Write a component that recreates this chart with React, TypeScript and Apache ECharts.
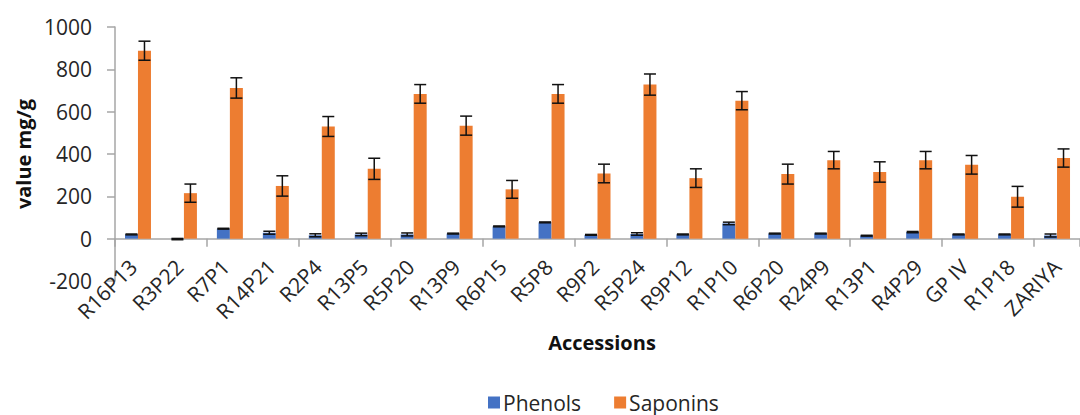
import React, { useEffect, useRef } from "react";
import * as echarts from "echarts";

const categories = ["R16P13", "R3P22", "R7P1", "R14P21", "R2P4", "R13P5", "R5P20", "R13P9", "R6P15", "R5P8", "R9P2", "R5P24", "R9P12", "R1P10", "R6P20", "R24P9", "R13P1", "R4P29", "GP IV", "R1P18", "ZARIYA"];
const phenols = [20, -2, 47, 28, 16, 20, 20, 24, 58, 77, 18, 22, 20, 72, 24, 24, 14, 31, 20, 20, 15];
const phenolsErr = [2, 3, 2, 7, 7, 6, 7, 2, 2, 2, 2, 6, 2, 6, 2, 2, 2, 3, 2, 2, 7];
const saponins = [888, 215, 712, 249, 530, 330, 684, 534, 233, 684, 308, 728, 286, 652, 305, 371, 315, 371, 349, 198, 381];
const saponinsErr = [45, 43, 48, 48, 47, 50, 44, 45, 42, 44, 44, 50, 44, 43, 47, 41, 48, 41, 44, 49, 43];
const yTicks = { min: -200, max: 1000, interval: 200 };

const FONT = "'Open Sans', sans-serif";
const BLUE = "#4472C4";
const ORANGE = "#ED7D31";
const AXIS = "#A6A6A6";
const TEXT = "#262626";

function errorSeries(name: string, values: number[], errs: number[], offset: number) {
  return {
    type: "custom",
    name: name + " err",
    xAxisIndex: 0,
    yAxisIndex: 0,
    z: 5,
    silent: true,
    data: values.map((v, i) => [i, v, errs[i]]),
    renderItem: (params: any, api: any) => {
      const idx = api.value(0);
      const v = api.value(1);
      const e = api.value(2);
      const c = api.coord([idx, v]);
      const x = c[0] + offset;
      const yt = api.coord([idx, v + e])[1];
      const yb = api.coord([idx, v - e])[1];
      const hw = 6;
      const style = { stroke: "#111", lineWidth: 1.5 };
      return {
        type: "group",
        children: [
          { type: "line", shape: { x1: x, y1: yt, x2: x, y2: yb }, style },
          { type: "line", shape: { x1: x - hw, y1: yt, x2: x + hw, y2: yt }, style },
          { type: "line", shape: { x1: x - hw, y1: yb, x2: x + hw, y2: yb }, style },
        ],
      };
    },
  };
}

export default function App() {
  const ref = useRef<HTMLDivElement>(null);
  useEffect(() => {
    if (!ref.current) return;
    const chart = echarts.init(ref.current, undefined, { renderer: "svg" });
    chart.setOption({
      animation: false,
      backgroundColor: "#ffffff",
      textStyle: { fontFamily: FONT },
      grid: [
        { left: 115, top: 27, width: 975, height: 254 },
        { left: 110, top: 27, width: 975, height: 254 },
      ],
      graphic: [
        {
          type: "text",
          x: 602,
          y: 342,
          style: {
            text: "Accessions",
            fontSize: 20,
            fontWeight: "bold",
            fill: "#111",
            fontFamily: FONT,
            textAlign: "center",
            textVerticalAlign: "middle",
          },
        },
      ],
      legend: {
        data: ["Phenols", "Saponins"],
        left: 488,
        top: 392,
        padding: 0,
        itemWidth: 12,
        itemHeight: 12,
        itemGap: 33,
        icon: "rect",
        textStyle: { fontSize: 21, lineHeight: 21, color: TEXT, fontFamily: FONT, padding: [0, 0, 0, -2] },
      },
      xAxis: [
        {
          type: "category",
          gridIndex: 0,
          data: categories,
          position: "bottom",
          axisLine: { show: true, onZero: true, lineStyle: { color: AXIS, width: 1.5 } },
          axisTick: { show: true, length: 8, lineStyle: { color: AXIS, width: 1.5 } },
          axisLabel: { show: false },
          splitLine: { show: false },
        },
        {
          type: "category",
          gridIndex: 1,
          data: categories,
          position: "bottom",
          axisLine: { show: false, onZero: false },
          axisTick: { show: false },
          axisLabel: {
            show: true,
            interval: 0,
            rotate: 45,
            margin: -18,
            fontSize: 21,
            color: TEXT,
            fontFamily: FONT,
          },
          splitLine: { show: false },
        },
      ],
      yAxis: [
        {
          type: "value",
          gridIndex: 0,
          min: yTicks.min,
          max: yTicks.max,
          interval: yTicks.interval,
          axisLine: { show: true, lineStyle: { color: AXIS, width: 1.5 } },
          axisTick: { show: true, length: 8, lineStyle: { color: AXIS, width: 1.5 } },
          axisLabel: { fontSize: 21, color: TEXT, margin: 23, fontFamily: FONT, formatter: (v: number) => String(v) },
          splitLine: { show: false },
          name: "value mg/g",
          nameLocation: "middle",
          nameGap: 80,
          nameTextStyle: { fontSize: 20, fontWeight: "bold", color: "#111", fontFamily: FONT },
        },
        {
          type: "value",
          gridIndex: 1,
          min: yTicks.min,
          max: yTicks.max,
          interval: yTicks.interval,
          show: false,
        },
      ],
      series: [
        {
          name: "Phenols",
          type: "bar",
          xAxisIndex: 0,
          yAxisIndex: 0,
          data: phenols,
          barWidth: 13,
          barGap: "0%",
          itemStyle: { color: BLUE },
        },
        {
          name: "Saponins",
          type: "bar",
          xAxisIndex: 0,
          yAxisIndex: 0,
          data: saponins,
          barWidth: 13,
          barGap: "0%",
          itemStyle: { color: ORANGE },
        },
        errorSeries("Phenols", phenols, phenolsErr, -6.5),
        errorSeries("Saponins", saponins, saponinsErr, 6.5),
      ],
    });
    return () => chart.dispose();
  }, []);
  return (
    <div
      ref={ref}
      style={{ position: "fixed", left: 0, top: 0, width: 1080, height: 415, background: "#fff" }}
    />
  );
}
